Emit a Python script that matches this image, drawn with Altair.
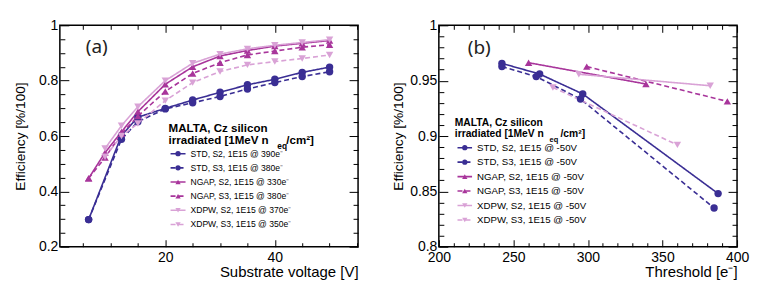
import json
import altair as alt
import pandas as pd

SERIES = ["STD S2", "STD S3", "NGAP S2", "NGAP S3", "XDPW S2", "XDPW S3"]
COLORS = ["#3a2e94", "#3a2e94", "#a8359b", "#a8359b", "#d9a2d6", "#d9a2d6"]
DASHES = [[1, 0], [5, 3], [1, 0], [5, 3], [1, 0], [5, 3]]
SHAPES = ["circle", "circle", "triangle-up", "triangle-up", "triangle-down", "triangle-down"]

# ---------------- Panel (a): efficiency vs substrate voltage ----------------
volt_std = [6, 12, 15, 20, 25, 30, 35, 40, 45, 50]
volt_ngap = [6, 9, 12, 15, 20, 25, 30, 35, 40, 45, 50]
volt_xdpw = [9, 12, 15, 20, 25, 30, 35, 40, 45, 50]
eff_a_std_s2 = [0.298, 0.602, 0.668, 0.700, 0.730, 0.758, 0.785, 0.805, 0.830, 0.849]
eff_a_std_s3 = [0.298, 0.588, 0.652, 0.698, 0.720, 0.743, 0.770, 0.793, 0.815, 0.832]
eff_a_ngap_s2 = [0.447, 0.540, 0.615, 0.688, 0.787, 0.850, 0.889, 0.909, 0.925, 0.935, 0.945]
eff_a_ngap_s3 = [0.447, 0.522, 0.608, 0.672, 0.761, 0.826, 0.865, 0.893, 0.907, 0.921, 0.930]
eff_a_xdpw_s2 = [0.555, 0.637, 0.706, 0.800, 0.863, 0.896, 0.915, 0.928, 0.938, 0.948]
eff_a_xdpw_s3 = [0.525, 0.600, 0.645, 0.728, 0.793, 0.833, 0.857, 0.869, 0.880, 0.893]
labels_a = ["STD, S2, 1E15 @ 390e\u207b", "STD, S3, 1E15 @ 380e\u207b",
            "NGAP, S2, 1E15 @ 330e\u207b", "NGAP, S3, 1E15 @ 380e\u207b",
            "XDPW, S2, 1E15 @ 370e\u207b", "XDPW, S3, 1E15 @ 350e\u207b"]
xa_major = [20, 40]
xa_all = [5, 10, 15, 20, 25, 30, 35, 40, 45, 50, 55]
ya_major = [0.2, 0.4, 0.6, 0.8, 1.0]
ya_all = [0.2, 0.25, 0.3, 0.35, 0.4, 0.45, 0.5, 0.55, 0.6, 0.65, 0.7, 0.75,
          0.8, 0.85, 0.9, 0.95, 1.0]

# ---------------- Panel (b): efficiency vs threshold ----------------
thr_std_s2 = [242.3, 267.6, 296.5, 387.3]
thr_std_s3 = [242.3, 265.3, 295.0, 384.6]
thr_ngap_s2 = [260.2, 338.9]
thr_ngap_s3 = [299.2, 393.5]
thr_xdpw_s2 = [293.9, 382.0]
thr_xdpw_s3 = [276.5, 360.0]
eff_b_std_s2 = [0.9656, 0.9560, 0.9380, 0.8480]
eff_b_std_s3 = [0.9627, 0.9537, 0.9334, 0.8350]
eff_b_ngap_s2 = [0.9662, 0.9470]
eff_b_ngap_s3 = [0.9627, 0.9313]
eff_b_xdpw_s2 = [0.9558, 0.9454]
eff_b_xdpw_s3 = [0.9439, 0.8920]
labels_b = ["STD, S2, 1E15 @ -50V", "STD, S3, 1E15 @ -50V",
            "NGAP, S2, 1E15 @ -50V", "NGAP, S3, 1E15 @ -50V",
            "XDPW, S2, 1E15 @ -50V", "XDPW, S3, 1E15 @ -50V"]
xb_major = [200, 250, 300, 350, 400]
xb_all = [200, 210, 220, 230, 240, 250, 260, 270, 280, 290, 300, 310, 320, 330,
          340, 350, 360, 370, 380, 390, 400]
yb_major = [0.8, 0.85, 0.9, 0.95, 1.0]
yb_all = [0.8, 0.81, 0.82, 0.83, 0.84, 0.85, 0.86, 0.87, 0.88, 0.89, 0.9, 0.91,
          0.92, 0.93, 0.94, 0.95, 0.96, 0.97, 0.98, 0.99, 1.0]

W, H = 299, 222
FONT = "Arial"


def long_df(xs, ys):
    rows = []
    for s, xv, yv in zip(SERIES, xs, ys):
        for a, b in zip(xv, yv):
            rows.append({"series": s, "x": a, "y": b})
    return pd.DataFrame(rows)


df_a = long_df([volt_std, volt_std, volt_ngap, volt_ngap, volt_xdpw, volt_xdpw],
               [eff_a_std_s2, eff_a_std_s3, eff_a_ngap_s2, eff_a_ngap_s3,
                eff_a_xdpw_s2, eff_a_xdpw_s3])
df_b = long_df([thr_std_s2, thr_std_s3, thr_ngap_s2, thr_ngap_s3, thr_xdpw_s2, thr_xdpw_s3],
               [eff_b_std_s2, eff_b_std_s3, eff_b_ngap_s2, eff_b_ngap_s3,
                eff_b_xdpw_s2, eff_b_xdpw_s3])

color = alt.Color("series:N", scale=alt.Scale(domain=SERIES, range=COLORS), legend=None)
dash = alt.StrokeDash("series:N", scale=alt.Scale(domain=SERIES, range=DASHES), legend=None)
shape = alt.Shape("series:N", scale=alt.Scale(domain=SERIES, range=SHAPES), legend=None)


def cond_size(major, big, small):
    return {"condition": {"test": f"indexof({json.dumps(major)}, datum.value) >= 0",
                          "value": big}, "value": small}


def tick_axis(orient, offset, values, major, big, small):
    return alt.Axis(orient=orient, offset=offset, values=values, labels=False,
                    title=None, domain=False, grid=False, tickColor="black",
                    tickWidth=1, tickSize=cond_size(major, big, small))


def panel(df, xdom, ydom, x_major, x_all, y_major, y_all, xtitle, ytitle,
          ytitle_pad, tag, tag_pos, labels, leg):
    xs = alt.Scale(domain=xdom, nice=False, zero=False)
    ys = alt.Scale(domain=ydom, nice=False, zero=False)
    base = alt.Chart(df)
    x_lab = alt.Axis(orient="bottom", values=x_major, title=xtitle, titleAnchor="end",
                     labelFontSize=14, titleFontSize=15, titleFontWeight="normal",
                     labelPadding=4, titlePadding=0, tickSize=0, domain=False,
                     grid=False, labelFlush=False, labelOverlap=False,
                     labelColor="black", titleColor="black", format="d",
                     labelFont=FONT, titleFont=FONT)
    y_lab = alt.Axis(orient="left", values=y_major, title=ytitle,
                     labelFontSize=14, titleFontSize=13.7, titleFontWeight="normal",
                     labelPadding=2, titlePadding=ytitle_pad, tickSize=0, domain=False,
                     grid=False, labelFlush=False, labelOverlap=False,
                     labelColor="black", titleColor="black", format="~g",
                     labelFont=FONT, titleFont=FONT)
    lines = base.mark_line(strokeWidth=1.6).encode(
        x=alt.X("x:Q", scale=xs, axis=x_lab),
        y=alt.Y("y:Q", scale=ys, axis=y_lab),
        color=color, strokeDash=dash, detail="series:N")
    points = base.mark_point(filled=True, opacity=1, size=55).encode(
        x=alt.X("x:Q", scale=xs, axis=None),
        y=alt.Y("y:Q", scale=ys, axis=None),
        color=color, shape=shape)
    ticks1 = base.mark_point(opacity=0).encode(
        x=alt.X("x:Q", scale=xs, axis=tick_axis("top", -H, x_all, x_major, 7, 4)),
        y=alt.Y("y:Q", scale=ys, axis=tick_axis("right", -W, y_all, y_major, 9, 5)))
    ticks2 = base.mark_point(opacity=0).encode(
        x=alt.X("x:Q", scale=xs, axis=tick_axis("bottom", -H, x_all, x_major, 7, 4)),
        y=alt.Y("y:Q", scale=ys, axis=tick_axis("left", -W, y_all, y_major, 9, 5)))

    # panel tag
    tag_layer = alt.Chart(pd.DataFrame({"t": [tag]})).mark_text(
        align="left", baseline="alphabetic", fontSize=19, font="Noto Sans",
        color="#222222").encode(text="t:N", x=alt.value(tag_pos[0]), y=alt.value(tag_pos[1]))

    # legend entries (pixel layout)
    lx, ly0, dy, llen, tsize, title_x, title_y, title_fs, eq_x, cm_x, title_gap = leg
    ldf = pd.DataFrame({"series": SERIES, "label": labels})
    ldf["ly"] = [ly0 + i * dy for i in range(len(SERIES))]
    ldf["lx1"] = lx
    ldf["lx2"] = lx + llen
    ldf["lxm"] = lx + llen / 2
    ldf["ltx"] = lx + llen + 5
    lbase = alt.Chart(ldf)
    leg_lines = lbase.mark_rule(strokeWidth=1.6).encode(
        x=alt.X("lx1:Q", scale=None), x2="lx2:Q", y=alt.Y("ly:Q", scale=None),
        color=color, strokeDash=dash)
    leg_pts = lbase.mark_point(filled=True, opacity=1, size=28).encode(
        x=alt.X("lxm:Q", scale=None), y=alt.Y("ly:Q", scale=None),
        color=color, shape=shape)
    leg_txt = lbase.mark_text(align="left", baseline="middle", fontSize=tsize,
                              font=FONT, color="black").encode(
        x=alt.X("ltx:Q", scale=None), y=alt.Y("ly:Q", scale=None), text="label:N")
    tdf = pd.DataFrame({
        "txt": ["MALTA, Cz silicon", "irradiated [1MeV n", "eq", "/cm\u00b2]"],
        "tx": [title_x, title_x, eq_x, cm_x],
        "ty": [title_y, title_y + title_gap, title_y + title_gap + 5, title_y + title_gap],
        "fs": [title_fs, title_fs, title_fs * 0.72, title_fs],
    })
    leg_title = alt.Chart(tdf).mark_text(align="left", baseline="alphabetic",
                                         fontWeight="bold", font=FONT, color="black").encode(
        x=alt.X("tx:Q", scale=None), y=alt.Y("ty:Q", scale=None),
        text="txt:N", size=alt.Size("fs:Q", scale=None, legend=None))

    return alt.layer(lines, points, ticks1, ticks2, tag_layer, leg_lines, leg_pts,
                     leg_txt, leg_title).resolve_axis(
        x="independent", y="independent").properties(width=W, height=H)


left = panel(df_a, [0.75, 55.2], [0.2, 1.0], xa_major, xa_all, ya_major, ya_all,
             "Substrate voltage [V]", "Efficiency [%/100]", 11, "(a)", (26, 28),
             labels_a,
             (111, 128.7, 14.2, 15, 8.6, 109, 107, 11.6, 218, 227, 12.3))
right = panel(df_b, [200, 400], [0.8, 1.0], xb_major, xb_all, yb_major, yb_all,
              "Threshold [e\u207b]", "Efficiency [%/100]", 4, "(b)", (29, 29),
              labels_b,
              (18.7, 122.7, 14.5, 14.6, 9.7, 16, 100.7, 10.3, 111, 122, 11.7))

chart = alt.hconcat(left, right, spacing=31).properties(
    padding={"left": 4, "top": 9, "right": 5, "bottom": 0}
).configure(font=FONT).configure_view(stroke="black", strokeWidth=1.5)

chart.save("out.html", embed_options={"renderer": "svg", "actions": False})
